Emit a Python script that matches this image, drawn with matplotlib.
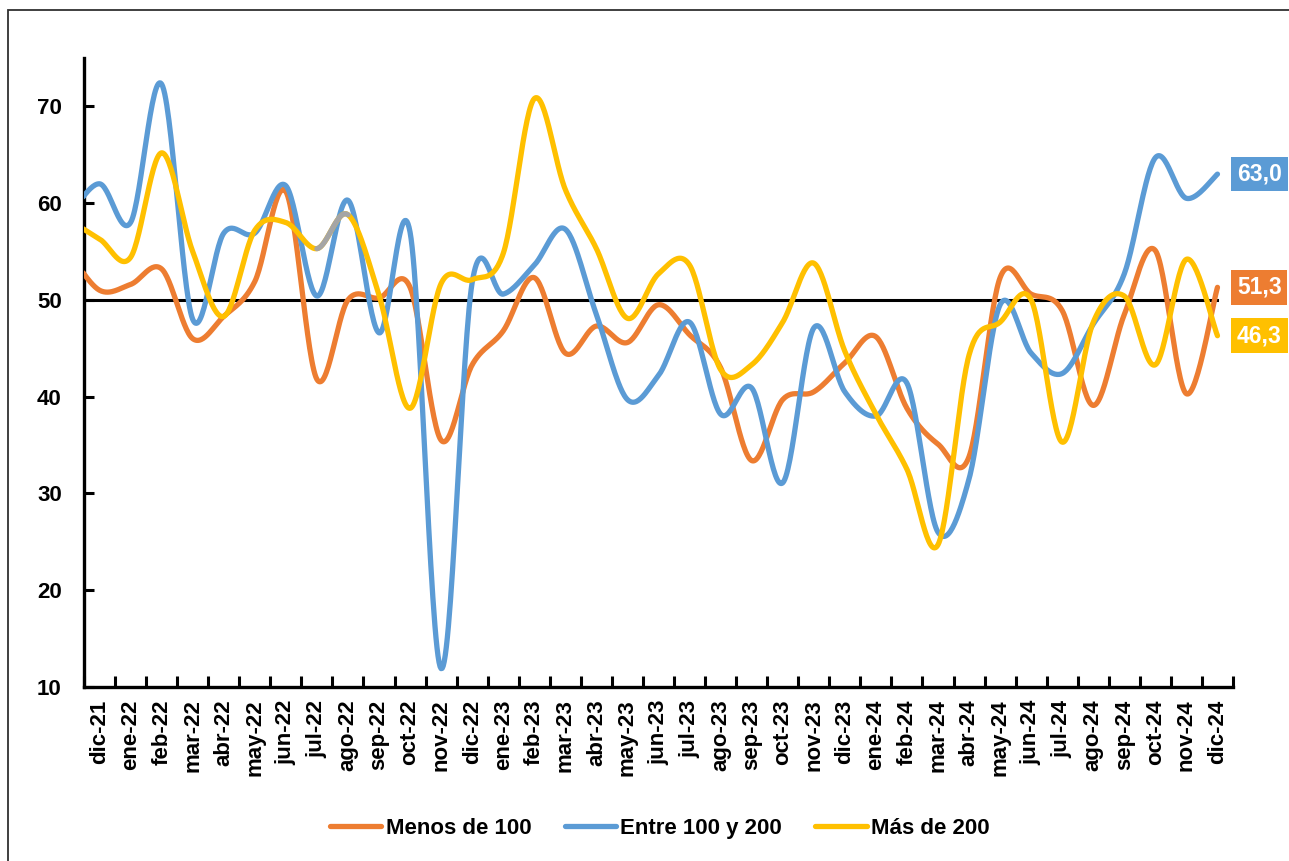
import numpy as np
import matplotlib.pyplot as plt
from matplotlib.patches import Rectangle

plt.rcParams['font.family'] = ['Liberation Sans', 'DejaVu Sans']
plt.rcParams['font.weight'] = 'bold'

months = ['dic-21', 'ene-22', 'feb-22', 'mar-22', 'abr-22', 'may-22', 'jun-22',
          'jul-22', 'ago-22', 'sep-22', 'oct-22', 'nov-22', 'dic-22', 'ene-23',
          'feb-23', 'mar-23', 'abr-23', 'may-23', 'jun-23', 'jul-23', 'ago-23',
          'sep-23', 'oct-23', 'nov-23', 'dic-23', 'ene-24', 'feb-24', 'mar-24',
          'abr-24', 'may-24', 'jun-24', 'jul-24', 'ago-24', 'sep-24', 'oct-24',
          'nov-24', 'dic-24']

# first value of each series is nov-21, off the left edge of the axis
menos_100 = [55.0, 51.0, 51.6, 53.2, 46.0, 48.3, 51.9, 61.2, 41.8, 50.0, 50.2,
             51.3, 35.5, 43.3, 46.8, 52.3, 44.5, 47.3, 45.6, 49.5, 46.4, 43.0,
             33.4, 39.7, 40.5, 43.5, 46.2, 38.8, 35.1, 33.8, 52.3, 50.6, 48.9,
             39.1, 48.5, 55.1, 40.3, 51.3]
entre_100_200 = [58.5, 62.0, 58.0, 72.3, 48.0, 56.9, 56.9, 61.8, 50.4, 60.3, 46.6,
                 57.0, 11.9, 51.8, 50.6, 53.6, 57.3, 48.5, 39.7, 42.2, 47.7, 38.2,
                 40.9, 31.1, 47.1, 40.5, 38.0, 41.4, 26.0, 31.5, 49.5, 44.5, 42.4,
                 47.5, 52.7, 64.7, 60.5, 63.0]
mas_200 = [58.3, 56.3, 54.4, 65.2, 55.0, 48.3, 57.2, 58.0, 55.3, 58.8, 50.5,
           38.8, 51.7, 52.1, 54.8, 70.8, 61.4, 55.3, 48.1, 52.7, 53.6, 42.8,
           43.3, 47.7, 53.8, 44.7, 38.2, 32.5, 24.7, 44.3, 47.7, 50.0, 35.3,
           47.7, 50.4, 43.3, 54.2, 46.3]
threshold = 50
gray_seg = ('jul-22', 'ago-22')

c_orange = '#ED7D31'
c_blue = '#5B9BD5'
c_yellow = '#FFC000'
c_gray = '#A5A5A5'


def smooth(x, y, n=30):
    # catmull-rom, like excel's smoothed line
    pts = np.column_stack([x, y]).astype(float)
    p = np.vstack([pts[0], pts, pts[-1]])
    t = np.linspace(0, 1, n, endpoint=False)[:, None]
    out = []
    for k in range(len(pts) - 1):
        p0, p1, p2, p3 = p[k], p[k + 1], p[k + 2], p[k + 3]
        seg = 0.5 * (2 * p1 + (-p0 + p2) * t + (2 * p0 - 5 * p1 + 4 * p2 - p3) * t ** 2
                     + (-p0 + 3 * p1 - 3 * p2 + p3) * t ** 3)
        out.append(seg)
    out.append(pts[-1:])
    c = np.vstack(out)
    return c[:, 0], c[:, 1]


x = np.arange(-1, len(months))

fig = plt.figure(figsize=(12.89, 8.61), dpi=100)
ax = fig.add_axes([84 / 1289, 1 - 687 / 861, (1233 - 84) / 1289, (687 - 58) / 861])

lw = 3.8
ax.plot([x[0], x[-1]], [threshold, threshold], color='black', lw=2.2, zorder=2)

sx, sy = smooth(x, menos_100)
ax.plot(sx, sy, color=c_orange, lw=lw, label='Menos de 100', solid_capstyle='round', zorder=3)
sx, sy = smooth(x, entre_100_200)
ax.plot(sx, sy, color=c_blue, lw=lw, label='Entre 100 y 200', solid_capstyle='round', zorder=4)
sx, sy = smooth(x, mas_200)
ax.plot(sx, sy, color=c_yellow, lw=lw, label='Más de 200', solid_capstyle='round', zorder=5)
a, b = months.index(gray_seg[0]), months.index(gray_seg[1])
m = (sx >= a) & (sx <= b)
ax.plot(sx[m], sy[m], color=c_gray, lw=lw, solid_capstyle='round', zorder=6)

# end labels
for vals, col in [(entre_100_200, c_blue), (menos_100, c_orange), (mas_200, c_yellow)]:
    ax.annotate(f'{vals[-1]:.1f}'.replace('.', ','), xy=(x[-1], vals[-1]),
                xytext=(14, 0), textcoords='offset points', va='center', ha='left',
                color='white', fontsize=16.5, fontweight='bold', annotation_clip=False,
                bbox=dict(boxstyle='square,pad=0.25', fc=col, ec='none'))

ax.set_xlim(-0.5, len(months) - 0.5)
ax.set_ylim(10, 75)
ax.set_yticks(range(10, 80, 10))
ax.set_xticks(np.arange(-0.5, len(months), 1.0))
ax.set_xticklabels([])
ax.set_xticks(np.arange(len(months)), minor=True)
ax.set_xticklabels(months, minor=True, rotation=90, fontsize=16, fontweight='bold')
ax.tick_params(axis='x', which='major', direction='in', length=8, width=2.2)
ax.tick_params(axis='x', which='minor', length=0, pad=9)
ax.tick_params(axis='y', direction='in', length=7, width=2.2, pad=16, labelsize=16)
for lab in ax.get_yticklabels():
    lab.set_fontweight('bold')

for s in ['top', 'right']:
    ax.spines[s].set_visible(False)
for s in ['left', 'bottom']:
    ax.spines[s].set_linewidth(2.4)

fig.legend(loc='center', bbox_to_anchor=(0.512, 0.038), ncol=3, frameon=False,
           prop={'size': 16, 'weight': 'bold'}, handlelength=2.3, handletextpad=0.2,
           columnspacing=1.5)

fig.patches.append(Rectangle((8 / 1289, -0.1), 1.2, 1 - 10 / 861 + 0.1,
                             transform=fig.transFigure, fill=False,
                             ec='#303030', lw=1.3))

fig.savefig('out.png', dpi=100)
